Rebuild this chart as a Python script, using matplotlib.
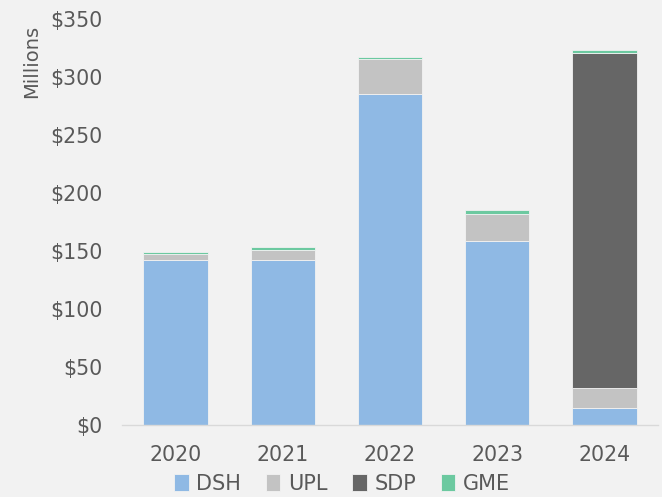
import matplotlib.pyplot as plt
import numpy as np

years = ["2020", "2021", "2022", "2023", "2024"]
dsh = [142, 142.5, 285.5, 159, 15]
upl = [5.5, 8, 30, 23, 17]
sdp = [0, 0, 0, 0, 289]
gme = [1.5, 3, 2, 3, 2]

series = [("DSH", dsh, "#8fb9e4"), ("UPL", upl, "#c3c3c3"),
          ("SDP", sdp, "#666666"), ("GME", gme, "#6cc9a0")]

bg = "#f2f2f2"
txt = "#595959"
plt.rcParams["font.family"] = ["DejaVu Sans"]

fig = plt.figure(figsize=(6.62, 4.97), dpi=100, facecolor=bg)
ax = fig.add_axes([122 / 662, 1 - 425 / 497, 536 / 662, 406 / 497], facecolor=bg)

x = np.arange(len(years))
bottom = np.zeros(len(years))
for name, vals, col in series:
    vals = np.array(vals, dtype=float)
    ax.bar(x, vals, 0.6, bottom=bottom, color=col, label=name,
           edgecolor=bg, linewidth=0.6)
    bottom += vals

ax.set_xlim(-0.5, len(years) - 0.5)
ax.set_ylim(0, 350)
ax.set_yticks(np.arange(0, 351, 50))
ax.set_yticklabels([f"${v}" for v in range(0, 351, 50)])
ax.set_xticks(x)
ax.set_xticklabels(years)
ax.tick_params(axis="both", length=0, labelsize=14.8, colors=txt)
ax.tick_params(axis="y", pad=14)
ax.tick_params(axis="x", pad=14.5)
for s in ["top", "right", "left"]:
    ax.spines[s].set_visible(False)
ax.spines["bottom"].set_color("#d9d9d9")
ax.spines["bottom"].set_linewidth(1)

fig.text(32 / 662, 1 - 61 / 497, "Millions", rotation=90, ha="center", va="center",
         fontsize=14, color=txt)

leg = fig.legend(loc="center", bbox_to_anchor=(342 / 662, 1 - 484 / 497), ncol=4,
                 frameon=False, fontsize=15, handlelength=0.7, handleheight=0.9,
                 handletextpad=0.35, columnspacing=1.2, labelcolor=txt,
                 borderpad=0, borderaxespad=0)

fig.savefig("out.png", dpi=100, facecolor=bg)
